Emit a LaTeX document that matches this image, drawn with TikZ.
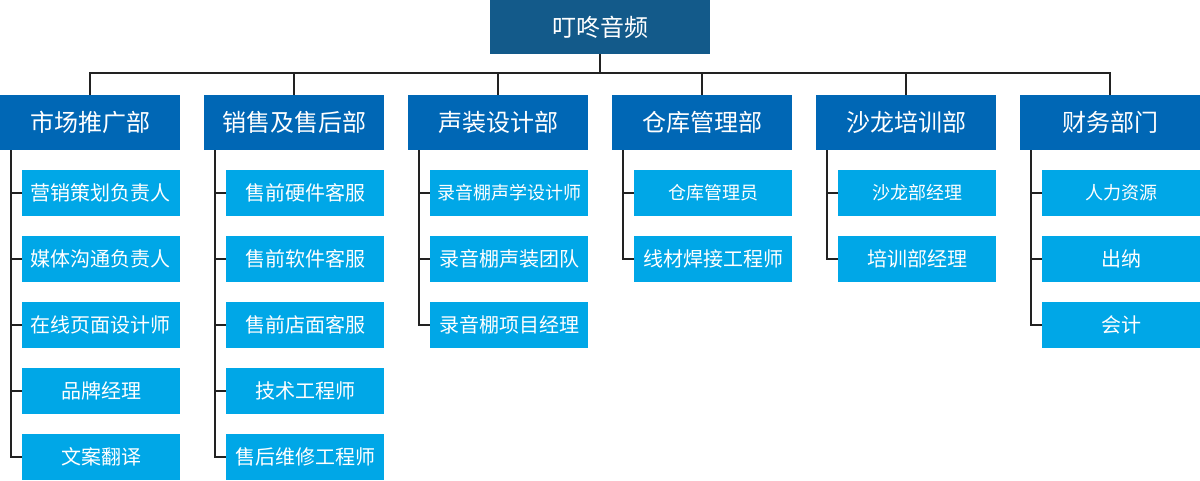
\documentclass[tikz,border=0pt]{standalone}
\usepackage{xcolor}
\usepackage{fontspec}
\usepackage{tikz}
\newfontfamily\cjk{Noto Sans CJK SC}
\definecolor{topblue}{HTML}{135A8A}
\definecolor{deptblue}{HTML}{0067B5}
\definecolor{itemblue}{HTML}{00A7E7}
\definecolor{linegray}{HTML}{222222}
\tikzset{
  topbox/.style={fill=topblue, text=white, inner sep=0pt, minimum width=165pt, minimum height=40.5pt, font=\cjk\fontsize{18}{18}\selectfont},
  deptbox/.style={fill=deptblue, text=white, inner sep=0pt, minimum width=135pt, minimum height=41.25pt, font=\cjk\fontsize{18}{18}\selectfont},
  itembox/.style={fill=itemblue, text=white, inner sep=0pt, minimum width=118.5pt, minimum height=34.5pt, font=\cjk\fontsize{15}{15}\selectfont},
  smalltext/.style={font=\cjk\fontsize{13.5}{13.5}\selectfont},
  link/.style={draw=linegray, line width=1.5pt}
}

\begin{document}
\begin{tikzpicture}[x=0.75pt, y=-0.75pt]
	\useasboundingbox (0,0) rectangle (1200,480);
	% company
	\node[topbox] (top) at (600,27) {叮咚音频};
	\coordinate (bus) at (600,73);
	% departments
	\node[deptbox] (d1) at (90,122.5) {市场推广部};
	\node[deptbox] (d2) at (294,122.5) {销售及售后部};
	\node[deptbox] (d3) at (498,122.5) {声装设计部};
	\node[deptbox] (d4) at (702,122.5) {仓库管理部};
	\node[deptbox] (d5) at (906,122.5) {沙龙培训部};
	\node[deptbox] (d6) at (1110,122.5) {财务部门};
	% marketing
	\node[itembox] (a1) at (101,193) {营销策划负责人};
	\node[itembox] (a2) at (101,259) {媒体沟通负责人};
	\node[itembox] (a3) at (101,325) {在线页面设计师};
	\node[itembox] (a4) at (101,391) {品牌经理};
	\node[itembox] (a5) at (101,457) {文案翻译};
	% sales
	\node[itembox] (b1) at (305,193) {售前硬件客服};
	\node[itembox] (b2) at (305,259) {售前软件客服};
	\node[itembox] (b3) at (305,325) {售前店面客服};
	\node[itembox] (b4) at (305,391) {技术工程师};
	\node[itembox] (b5) at (305,457) {售后维修工程师};
	% acoustic design
	\node[itembox, smalltext] (c1) at (509,193) {录音棚声学设计师};
	\node[itembox] (c2) at (509,259) {录音棚声装团队};
	\node[itembox] (c3) at (509,325) {录音棚项目经理};
	% warehouse
	\node[itembox, smalltext] (e1) at (713,193) {仓库管理员};
	\node[itembox] (e2) at (713,259) {线材焊接工程师};
	% salon
	\node[itembox, smalltext] (f1) at (917,193) {沙龙部经理};
	\node[itembox] (f2) at (917,259) {培训部经理};
	% finance
	\node[itembox, smalltext] (g1) at (1121,193) {人力资源};
	\node[itembox] (g2) at (1121,259) {出纳};
	\node[itembox] (g3) at (1121,325) {会计};
	% connectors
	\draw[link] (top.south) -- (bus);
	\foreach \d in {d1,d2,d3,d4,d5,d6}
		\draw[link] (\d.north) |- (bus);
	\coordinate (s1) at ([xshift=8.25pt]d1.south west);
	\coordinate (s2) at ([xshift=8.25pt]d2.south west);
	\coordinate (s3) at ([xshift=8.25pt]d3.south west);
	\coordinate (s4) at ([xshift=8.25pt]d4.south west);
	\coordinate (s5) at ([xshift=8.25pt]d5.south west);
	\coordinate (s6) at ([xshift=8.25pt]d6.south west);
	\foreach \i in {a1,a2,a3,a4,a5}
		\draw[link] (s1) |- (\i.west);
	\foreach \i in {b1,b2,b3,b4,b5}
		\draw[link] (s2) |- (\i.west);
	\foreach \i in {c1,c2,c3}
		\draw[link] (s3) |- (\i.west);
	\foreach \i in {e1,e2}
		\draw[link] (s4) |- (\i.west);
	\foreach \i in {f1,f2}
		\draw[link] (s5) |- (\i.west);
	\foreach \i in {g1,g2,g3}
		\draw[link] (s6) |- (\i.west);
\end{tikzpicture}
\end{document}
